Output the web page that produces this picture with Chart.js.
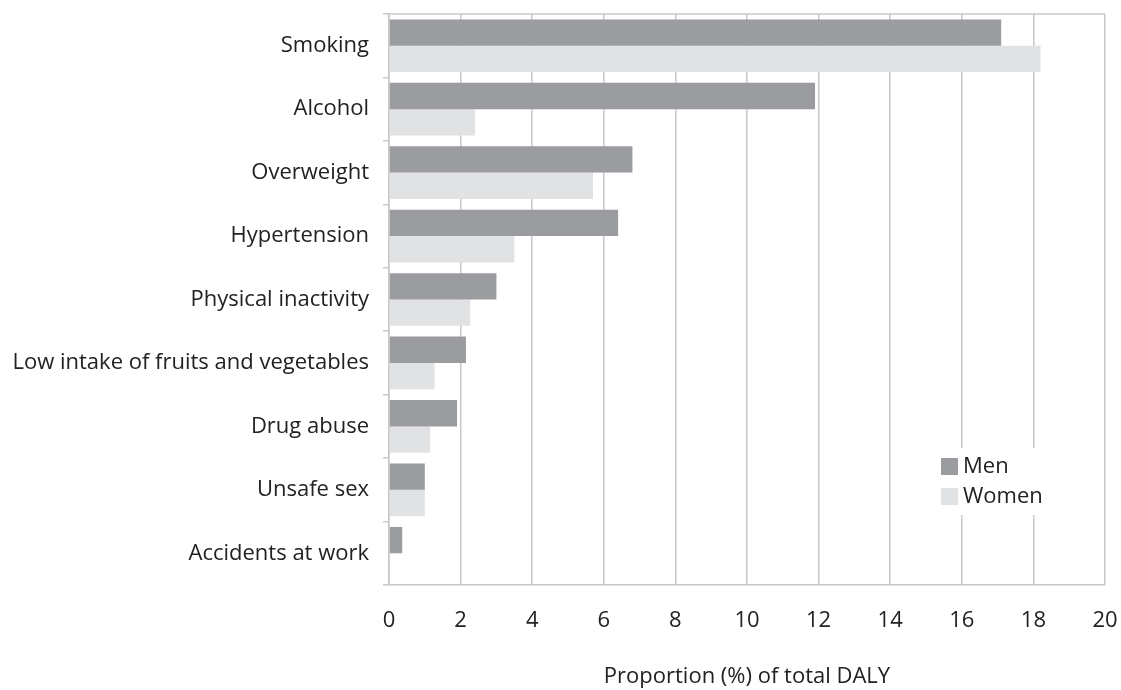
<!DOCTYPE html>
<html>
<head>
<meta charset="utf-8">
<script src="https://cdn.jsdelivr.net/npm/chart.js@4"></script>
<style>
  html, body { margin: 0; padding: 0; background: #fff; }
  #wrap { width: 1121px; height: 690px; }
</style>
</head>
<body>
<div id="wrap"><canvas id="chart" width="1121" height="690"></canvas></div>
<script>
const categories = ['Smoking', 'Alcohol', 'Overweight', 'Hypertension', 'Physical inactivity',
    'Low intake of fruits and vegetables', 'Drug abuse', 'Unsafe sex', 'Accidents at work'];
const menValues = [17.1, 11.9, 6.8, 6.4, 3.0, 2.15, 1.9, 1.0, 0.37];
const womenValues = [18.2, 2.4, 5.7, 3.5, 2.27, 1.27, 1.15, 1.0, 0];
const seriesNames = ['Men', 'Women'];
const xTicks = [0, 2, 4, 6, 8, 10, 12, 14, 16, 18, 20];

const FONT = "'Open Sans', sans-serif";
const GRID = '#c8c8c8';

// frame round the plot area + legend box inside it
const framePlugin = {
    id: 'frame',
    beforeDatasetsDraw(chart) {
        const a = chart.chartArea;
        const ctx = chart.ctx;
        ctx.save();
        ctx.strokeStyle = GRID;
        ctx.lineWidth = 1.5;
        ctx.beginPath();
        ctx.moveTo(a.left, a.top);
        ctx.lineTo(a.right, a.top);
        ctx.stroke();
        ctx.restore();
    },
    afterDatasetsDraw(chart) {
        const a = chart.chartArea;
        const ctx = chart.ctx;
        const x0 = a.right - 164;
        const y0 = a.bottom - 127;
        ctx.save();
        ctx.fillStyle = '#fff';
        ctx.fillRect(x0 - 6, y0 - 10, 112, 67);
        ctx.font = '22px ' + FONT;
        ctx.textBaseline = 'middle';
        chart.data.datasets.forEach((ds, i) => {
            const y = y0 + i * 30;
            ctx.fillStyle = ds.backgroundColor;
            ctx.fillRect(x0, y, 17, 17);
            ctx.fillStyle = '#222';
            ctx.fillText(ds.label, x0 + 22, y + 9);
        });
        ctx.restore();
    }
};

new Chart(document.getElementById('chart'), {
    type: 'bar',
    data: {
        labels: categories,
        datasets: [
            { label: seriesNames[0], data: menValues, backgroundColor: '#9b9c9f',
              categoryPercentage: 0.83, barPercentage: 1.0 },
            { label: seriesNames[1], data: womenValues, backgroundColor: '#e1e2e4',
              categoryPercentage: 0.83, barPercentage: 1.0 }
        ]
    },
    options: {
        indexAxis: 'y',
        responsive: false,
        animation: false,
        layout: { padding: { top: 14, right: 16, left: 0, bottom: 0 } },
        plugins: {
            legend: { display: false },
            tooltip: { enabled: false }
        },
        scales: {
            x: {
                min: 0,
                max: 20,
                afterBuildTicks(scale) {
                    scale.ticks = xTicks.map(v => ({ value: v }));
                },
                afterFit(scale) {
                    scale.height = 105;
                    scale.paddingLeft = 0;
                    scale.paddingRight = 0;
                },
                grid: { color: GRID, lineWidth: 1.5, drawTicks: false },
                border: { color: GRID, width: 1.5 },
                ticks: { color: '#222', font: { family: FONT, size: 22 }, padding: 23 },
                title: {
                    display: true,
                    text: 'Proportion (%) of total DALY',
                    color: '#222',
                    font: { family: FONT, size: 22 },
                    padding: { top: 12, bottom: 0 }
                }
            },
            y: {
                afterFit(scale) {
                    scale.width = 389;
                    scale.paddingTop = 0;
                    scale.paddingBottom = 0;
                },
                grid: { offset: true, drawOnChartArea: false, color: GRID, lineWidth: 1.5, tickLength: 6 },
                border: { color: GRID, width: 1.5 },
                ticks: { color: '#222', font: { family: FONT, size: 22 }, padding: 14 }
            }
        }
    },
    plugins: [framePlugin]
});
</script>
</body>
</html>
